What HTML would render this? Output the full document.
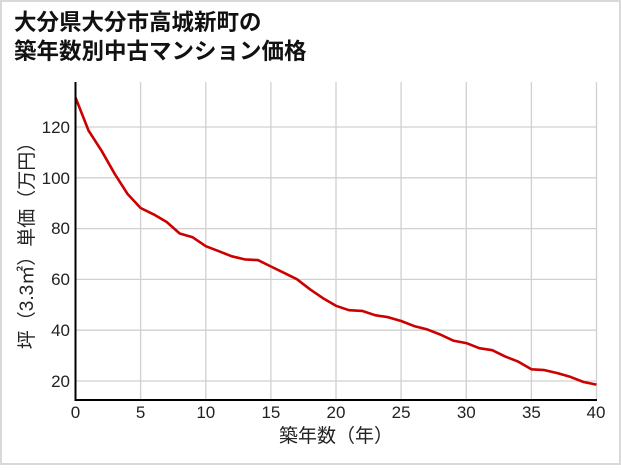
<!DOCTYPE html>
<html><head><meta charset="utf-8"><style>
html,body{margin:0;padding:0;background:#fff}
body{width:621px;height:465px;overflow:hidden}
</style></head><body>
<svg width="621" height="465" xmlns="http://www.w3.org/2000/svg" font-family="Liberation Sans Narrow, Liberation Sans, Noto Sans CJK JP, sans-serif">
<rect x="1" y="1" width="619" height="463" fill="#fff" stroke="#d9d9d9" stroke-width="2"/>
<text x="14" y="30" font-size="22.5" font-weight="bold" font-family="Liberation Sans, Noto Sans CJK JP, sans-serif" fill="#111">大分県大分市高城新町の</text>
<text x="14" y="59" font-size="22.5" font-weight="bold" font-family="Liberation Sans, Noto Sans CJK JP, sans-serif" fill="#111">築年数別中古マンション価格</text>
<g stroke="#d0d0d0" stroke-width="1.3">
<line x1="140.6" y1="82" x2="140.6" y2="400"/><line x1="205.8" y1="82" x2="205.8" y2="400"/><line x1="270.9" y1="82" x2="270.9" y2="400"/><line x1="336" y1="82" x2="336" y2="400"/><line x1="401.1" y1="82" x2="401.1" y2="400"/><line x1="466.3" y1="82" x2="466.3" y2="400"/><line x1="531.4" y1="82" x2="531.4" y2="400"/><line x1="596.5" y1="82" x2="596.5" y2="400"/>
<line x1="75" y1="127" x2="596.5" y2="127"/><line x1="75" y1="177.8" x2="596.5" y2="177.8"/><line x1="75" y1="228.6" x2="596.5" y2="228.6"/><line x1="75" y1="279.4" x2="596.5" y2="279.4"/><line x1="75" y1="330.2" x2="596.5" y2="330.2"/><line x1="75" y1="381" x2="596.5" y2="381"/>
</g>
<polyline fill="none" stroke="#cc0000" stroke-width="2.6" stroke-linejoin="round" points="75.5,97.5 88.5,130.5 101.6,150.8 114.6,173.7 127.6,194 140.6,208 153.7,214.4 166.7,222 179.7,233.5 192.7,237.3 205.8,246.2 218.8,251.2 231.8,256.3 244.8,259.4 257.9,260.1 270.9,266.5 283.9,272.8 296.9,279.2 310,289.3 323,298.2 336,305.8 349,310.2 362.1,310.9 375.1,315.2 388.1,317.2 401.1,321 414.2,326.1 427.2,329.4 440.2,334.5 453.2,340.6 466.3,343.1 479.3,348.2 492.3,350.2 505.3,356.6 518.4,361.7 531.4,369.3 544.4,370.1 557.4,373.1 570.5,376.9 583.5,382 596.5,384.6"/>
<line x1="75.5" y1="82" x2="75.5" y2="401" stroke="#000" stroke-width="2"/>
<line x1="74.5" y1="400" x2="597" y2="400" stroke="#000" stroke-width="2"/>
<g font-size="17" fill="#222" text-anchor="end">
<text x="70" y="133">120</text><text x="70" y="184">100</text><text x="70" y="234">80</text><text x="70" y="285">60</text><text x="70" y="336">40</text><text x="70" y="387">20</text>
</g>
<g font-size="17" fill="#222" text-anchor="middle">
<text x="75.5" y="418">0</text><text x="140.6" y="418">5</text><text x="205.8" y="418">10</text><text x="270.9" y="418">15</text><text x="336" y="418">20</text><text x="401.1" y="418">25</text><text x="466.3" y="418">30</text><text x="531.4" y="418">35</text><text x="596" y="418">40</text>
</g>
<text x="336" y="442" font-size="19" fill="#222" text-anchor="middle" font-family="Liberation Sans, Noto Sans CJK JP, sans-serif">築年数（年）</text>
<text transform="translate(33,241) rotate(-90)" font-size="19" fill="#222" text-anchor="middle" font-family="Liberation Sans, Noto Sans CJK JP, sans-serif">坪（3.3㎡）単価（万円）</text>
</svg>
</body></html>
